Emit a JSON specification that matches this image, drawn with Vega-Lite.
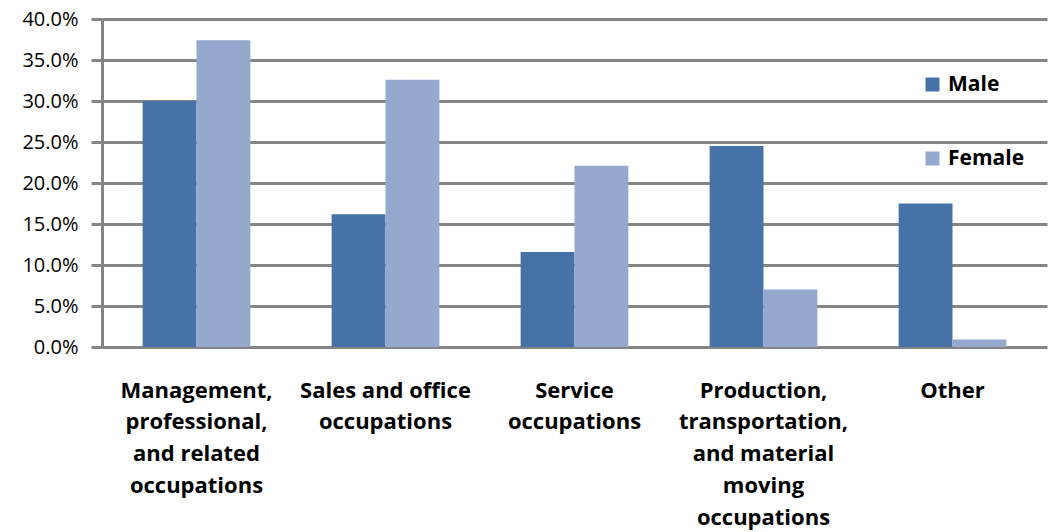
{
  "$schema": "https://vega.github.io/schema/vega-lite/v6.json",
  "width": 945,
  "height": 328,
  "autosize": {"type": "none"},
  "padding": {"left": 102, "top": 19, "right": 1, "bottom": 185},
  "background": "white",
  "config": {
    "view": {"stroke": null},
    "font": "Open Sans"
  },
  "data": {
    "values": [
      {"category": "Management, professional, and related occupations", "sex": "Male", "share": 0.300},
      {"category": "Management, professional, and related occupations", "sex": "Female", "share": 0.374},
      {"category": "Sales and office occupations", "sex": "Male", "share": 0.162},
      {"category": "Sales and office occupations", "sex": "Female", "share": 0.326},
      {"category": "Service occupations", "sex": "Male", "share": 0.116},
      {"category": "Service occupations", "sex": "Female", "share": 0.221},
      {"category": "Production, transportation, and material moving occupations", "sex": "Male", "share": 0.245},
      {"category": "Production, transportation, and material moving occupations", "sex": "Female", "share": 0.070},
      {"category": "Other", "sex": "Male", "share": 0.175},
      {"category": "Other", "sex": "Female", "share": 0.009}
    ]
  },
  "mark": {"type": "bar"},
  "encoding": {
    "x": {
      "field": "category",
      "type": "nominal",
      "sort": null,
      "title": null,
      "scale": {"paddingInner": 0.43, "paddingOuter": 0.215},
      "axis": {
        "domain": false,
        "ticks": false,
        "grid": false,
        "labelAngle": 0,
        "labelFontSize": 22,
        "labelFontWeight": "bold",
        "labelColor": "black",
        "labelPadding": 33,
        "labelLineHeight": 31.8,
        "labelLimit": 400,
        "labelExpr": "datum.value == 'Management, professional, and related occupations' ? ['Management,', 'professional,', 'and related', 'occupations'] : datum.value == 'Sales and office occupations' ? ['Sales and office', 'occupations'] : datum.value == 'Service occupations' ? ['Service', 'occupations'] : datum.value == 'Production, transportation, and material moving occupations' ? ['Production,', 'transportation,', 'and material', 'moving', 'occupations'] : datum.value"
      }
    },
    "xOffset": {
      "field": "sex",
      "type": "nominal",
      "sort": ["Male", "Female"],
      "scale": {"paddingInner": 0, "paddingOuter": 0}
    },
    "y": {
      "field": "share",
      "type": "quantitative",
      "title": null,
      "scale": {"domain": [0, 0.4], "nice": false},
      "axis": {
        "values": [0, 0.05, 0.1, 0.15, 0.2, 0.25, 0.3, 0.35, 0.4],
        "format": ".1%",
        "grid": true,
        "gridColor": "#858585",
        "gridWidth": 3,
        "gridOpacity": 1,
        "domain": true,
        "domainColor": "#858585",
        "domainWidth": 3,
        "ticks": true,
        "tickColor": "#858585",
        "tickWidth": 3,
        "tickSize": 11,
        "labelPadding": 13,
        "labelFontSize": 20,
        "labelColor": "black"
      }
    },
    "color": {
      "field": "sex",
      "type": "nominal",
      "sort": ["Male", "Female"],
      "scale": {"domain": ["Male", "Female"], "range": ["#4672a7", "#95a9cf"]},
      "legend": {
        "title": null,
        "orient": "none",
        "legendX": 820,
        "legendY": 55,
        "padding": 0,
        "symbolType": "square",
        "symbolSize": 196,
        "symbolStrokeWidth": 0,
        "labelFontSize": 21,
        "labelFontWeight": "bold",
        "labelColor": "black",
        "labelOffset": 5,
        "rowPadding": 52
      }
    }
  }
}
